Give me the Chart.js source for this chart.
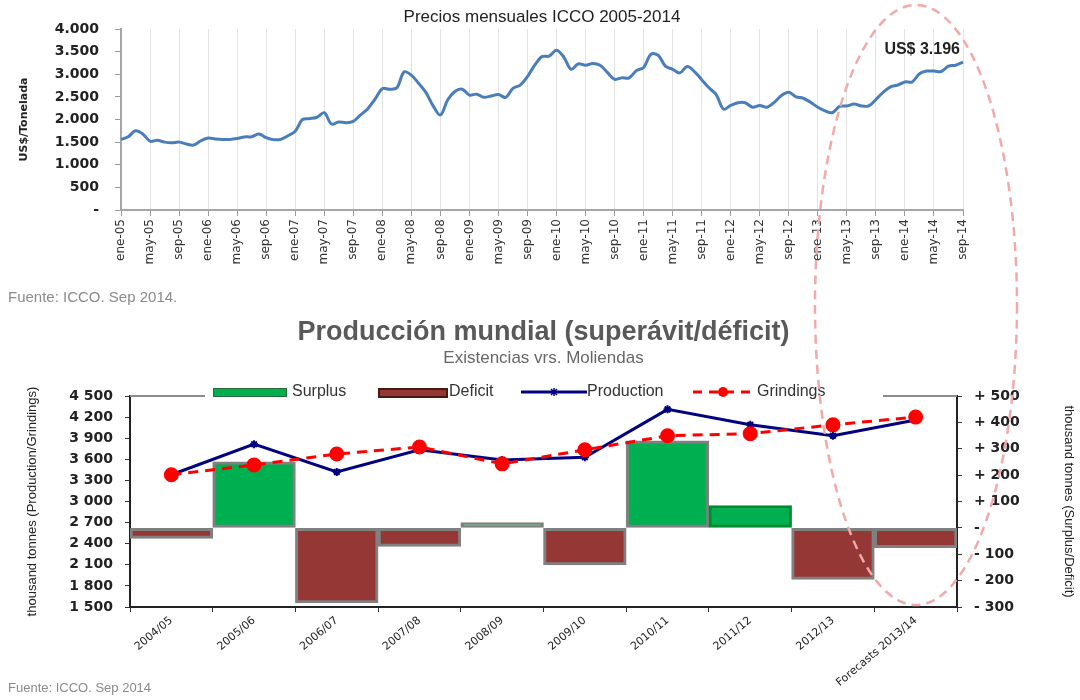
<!DOCTYPE html>
<html>
<head>
<meta charset="utf-8">
<script src="https://cdn.jsdelivr.net/npm/chart.js@4.4.1/dist/chart.umd.min.js"></script>
<style>
  body { margin: 0; background: #fff; width: 1080px; height: 700px; overflow: hidden; position: relative; font-family: "Liberation Sans", Arial, sans-serif; }
  canvas { position: absolute; left: 0; }
  #priceChart { top: 0; }
  #balanceChart { top: 300px; }
  .fuente { position: absolute; left: 8px; color: #8a8a8a; }
  #legend { position: absolute; left: 205px; top: 384px; width: 678px; height: 16px; background: #fff; font-family: "Liberation Sans", Arial, sans-serif; font-size: 16px; color: #333; }
  #legend span, #legend svg { position: absolute; }
  #legend .txt { top: -2px; }
  #ring { position: absolute; left: 0; top: 0; pointer-events: none; }
</style>
</head>
<body>
<canvas id="priceChart" width="1080" height="290"></canvas>
<div class="fuente" style="top:288px;font-size:15px">Fuente: ICCO. Sep 2014.</div>
<canvas id="balanceChart" width="1080" height="400"></canvas>
<div class="fuente" style="top:680px;font-size:13px">Fuente: ICCO. Sep 2014</div>

<div id="legend">
  <span style="left:8px;top:4px;width:72px;height:7px;background:#00B050;border:1px solid #2d6b3a"></span>
  <span class="txt" style="left:87px">Surplus</span>
  <span style="left:173px;top:4px;width:66px;height:6px;background:#953735;border:2px solid #4a1a10"></span>
  <span class="txt" style="left:244px">Deficit</span>
  <svg style="left:316px;top:2px" width="66" height="12"><line x1="0" y1="6" x2="66" y2="6" stroke="#000080" stroke-width="3"/><path d="M29 6h8M33 2v8M30 3l6 6M36 3l-6 6" stroke="#000080" stroke-width="1.5"/></svg>
  <span class="txt" style="left:382px">Production</span>
  <svg style="left:488px;top:1px" width="60" height="14"><line x1="0" y1="7" x2="60" y2="7" stroke="#FF0000" stroke-width="3" stroke-dasharray="9 7"/><circle cx="30" cy="7" r="5" fill="#FF0000"/></svg>
  <span class="txt" style="left:552px">Grindings</span>
</div>

<svg id="ring" width="1080" height="700"><ellipse cx="916" cy="305" rx="101" ry="300" fill="none" stroke="#F2A9A9" stroke-width="2.5" stroke-dasharray="9 6"/></svg>

<script>
// precios mensuales ICCO (US$/tonelada), ene-05 .. sep-14
var monthNames = ['ene','feb','mar','abr','may','jun','jul','ago','sep','oct','nov','dic'];
var years = [2005, 2006, 2007, 2008, 2009, 2010, 2011, 2012, 2013, 2014];
var p2005 = [1560,1620,1750,1680,1520,1540,1500,1485,1500,1460,1435,1530];
var p2006 = [1590,1570,1560,1560,1580,1615,1620,1680,1600,1555,1560,1640];
var p2007 = [1740,2000,2020,2050,2150,1900,1945,1930,1960,2100,2240,2450];
var p2008 = [2680,2670,2700,3050,2980,2800,2600,2300,2100,2430,2620,2670];
var p2009 = [2540,2560,2490,2520,2550,2490,2690,2760,2950,3200,3390,3400];
var p2010 = [3530,3380,3110,3230,3200,3240,3200,3040,2890,2920,2920,3080];
var p2011 = [3150,3440,3420,3180,3110,3030,3170,3060,2880,2700,2550,2230];
var p2012 = [2310,2370,2370,2270,2310,2270,2380,2530,2600,2500,2470,2380];
var p2013 = [2270,2190,2150,2290,2300,2340,2300,2300,2440,2600,2720,2760];
var p2014 = [2830,2830,3010,3070,3070,3060,3180,3200,3270];
var lastPriceLabel = 'US$ 3.196';

// produccion / molienda mundial (miles de toneladas)
var seasons = ['2004/05','2005/06','2006/07','2007/08','2008/09','2009/10','2010/11','2011/12','2012/13','Forecasts 2013/14'];
var production = [3380,3815,3420,3735,3590,3630,4310,4090,3935,4160];
var grindings  = [3380,3520,3675,3775,3535,3735,3935,3965,4090,4200];
var balance    = [-40,250,-285,-70,20,-140,330,85,-195,-75];

var prices = [].concat(p2005,p2006,p2007,p2008,p2009,p2010,p2011,p2012,p2013,p2014);
var monthLabels = [];
years.forEach(function(y) {
  monthNames.forEach(function(m) {
    if (monthLabels.length < prices.length) monthLabels.push(m + '-' + String(y).slice(2));
  });
});
var surplus = balance.map(function(v) { return v > 0 ? v : null; });
var deficit = balance.map(function(v) { return v < 0 ? v : null; });

function sepMiles(v, sep) {
  return String(Math.abs(v)).replace(/\B(?=(\d{3})+(?!\d))/g, sep);
}

var priceLabel = {
  id: 'priceLabel',
  afterDatasetsDraw: function(chart) {
    var pts = chart.getDatasetMeta(0).data;
    var last = pts[pts.length - 1];
    var ctx = chart.ctx;
    ctx.save();
    ctx.font = 'bold 16px "Liberation Sans"';
    ctx.fillStyle = '#222';
    ctx.textAlign = 'right';
    ctx.textBaseline = 'middle';
    ctx.fillText(lastPriceLabel, last.x - 3, last.y - 12);
    ctx.restore();
  }
};

var frameTop = {
  id: 'frameTop',
  beforeDatasetsDraw: function(chart) {
    var a = chart.chartArea, ctx = chart.ctx;
    ctx.save();
    ctx.strokeStyle = '#8c8c8c';
    ctx.lineWidth = 2;
    ctx.beginPath();
    ctx.moveTo(a.left, a.top);
    ctx.lineTo(a.right, a.top);
    ctx.stroke();
    ctx.restore();
  }
};

new Chart(document.getElementById('priceChart'), {
  type: 'line',
  data: {
    labels: monthLabels,
    datasets: [{
      data: prices,
      borderColor: '#4A7EBB',
      borderWidth: 3,
      pointRadius: 0,
      tension: 0.35
    }]
  },
  options: {
    responsive: false,
    animation: false,
    layout: { padding: { left: 14, right: 117, bottom: 10, top: 0 } },
    plugins: {
      legend: { display: false },
      tooltip: { enabled: false },
      title: {
        display: true, fullSize: false,
        text: 'Precios mensuales ICCO 2005-2014',
        color: '#222',
        font: { family: 'Liberation Sans', size: 17, weight: 'normal' },
        padding: { top: 7, bottom: 1.6 }
      }
    },
    scales: {
      x: {
        ticks: {
          autoSkip: false, minRotation: 90, maxRotation: 90, padding: 3,
          color: '#333', font: { family: 'DejaVu Sans', size: 12 },
          callback: function(v, i) { return i % 4 === 0 ? this.getLabelForValue(v) : null; }
        },
        grid: { color: '#e3e3e3', tickColor: '#9a9a9a', tickLength: 6 },
        border: { color: '#a6a6a6', width: 2 },
        afterFit: function(s) { s.height = 70; }
      },
      y: {
        min: 0, max: 4000,
        ticks: {
          stepSize: 500, padding: 16, color: '#222',
          font: { family: 'DejaVu Sans', size: 14, weight: 'bold' },
          callback: function(v) { return v === 0 ? '-' : sepMiles(v, '.'); }
        },
        grid: { drawOnChartArea: false, color: '#9a9a9a', tickLength: 6 },
        border: { color: '#a6a6a6', width: 2 },
        title: {
          display: true, text: 'US$/Tonelada', color: '#222',
          font: { family: 'DejaVu Sans', size: 11, weight: 'bold' }
        },
        afterFit: function(s) { s.width = 107; }
      }
    }
  },
  plugins: [priceLabel]
});

new Chart(document.getElementById('balanceChart'), {
  data: {
    labels: seasons,
    datasets: [
      {
        type: 'line', label: 'Grindings', data: grindings, yAxisID: 'y', order: 0,
        borderColor: '#FF0000', borderWidth: 3, borderDash: [10, 7],
        pointRadius: 6, pointBackgroundColor: '#FF0000', pointBorderColor: '#FF0000'
      },
      {
        type: 'line', label: 'Production', data: production, yAxisID: 'y', order: 1,
        borderColor: '#000080', borderWidth: 3,
        pointStyle: 'star', pointRadius: 4, pointBorderColor: '#000080', pointBorderWidth: 2
      },
      {
        type: 'bar', label: 'Surplus', data: surplus, yAxisID: 'y1', order: 2,
        backgroundColor: '#00B050',
        borderColor: function(c) { return c.dataIndex === 7 ? '#008a2e' : '#808080'; },
        borderWidth: 3, borderSkipped: false, grouped: false,
        barPercentage: 1, categoryPercentage: 1
      },
      {
        type: 'bar', label: 'Deficit', data: deficit, yAxisID: 'y1', order: 3,
        backgroundColor: '#953735', borderColor: '#808080',
        borderWidth: 3, borderSkipped: false, grouped: false,
        barPercentage: 1, categoryPercentage: 1
      }
    ]
  },
  options: {
    responsive: false,
    animation: false,
    layout: { padding: { left: 21, right: 0, top: 0, bottom: 0 } },
    plugins: {
      legend: { display: false },
      tooltip: { enabled: false },
      title: {
        display: true, fullSize: false,
        text: 'Producción mundial (superávit/déficit)',
        color: '#595959',
        font: { family: 'Liberation Sans', size: 27, weight: 'bold' },
        padding: { top: 16, bottom: 0 }
      },
      subtitle: {
        display: true, fullSize: false,
        text: 'Existencias vrs. Moliendas',
        color: '#666',
        font: { family: 'Liberation Sans', size: 17 },
        padding: { top: 0, bottom: 27.2 }
      }
    },
    scales: {
      x: {
        offset: true,
        ticks: {
          autoSkip: false, minRotation: 40, maxRotation: 40, padding: 2,
          color: '#222', font: { family: 'DejaVu Sans', size: 11 }
        },
        grid: { offset: true, drawOnChartArea: false, color: '#333', tickLength: 5 },
        border: { color: '#222', width: 2 },
        afterFit: function(s) { s.height = 93; }
      },
      y: {
        position: 'left', min: 1500, max: 4500,
        ticks: {
          stepSize: 300, padding: 12, color: '#222',
          font: { family: 'DejaVu Sans', size: 14, weight: 'bold' },
          callback: function(v) { return sepMiles(v, ' '); }
        },
        grid: { drawOnChartArea: false, color: '#333', tickLength: 5 },
        border: { color: '#222', width: 2 },
        title: {
          display: true, text: 'thousand tonnes (Production/Grindings)', color: '#222',
          font: { family: 'Liberation Sans', size: 13 }
        },
        afterFit: function(s) { s.width = 109; }
      },
      y1: {
        position: 'right', min: -300, max: 500,
        ticks: {
          stepSize: 100, padding: 12, color: '#222',
          font: { family: 'DejaVu Sans', size: 14, weight: 'bold' },
          callback: function(v) { return v > 0 ? '+ ' + v : v < 0 ? '- ' + (-v) : '-'; }
        },
        grid: { drawOnChartArea: false, color: '#333', tickLength: 5 },
        border: { color: '#222', width: 2 },
        title: {
          display: true, text: 'thousand tonnes (Surplus/Deficit)', color: '#222',
          font: { family: 'Liberation Sans', size: 13 }
        },
        afterFit: function(s) { s.width = 123; }
      }
    }
  },
  plugins: [frameTop]
});
</script>
</body>
</html>
